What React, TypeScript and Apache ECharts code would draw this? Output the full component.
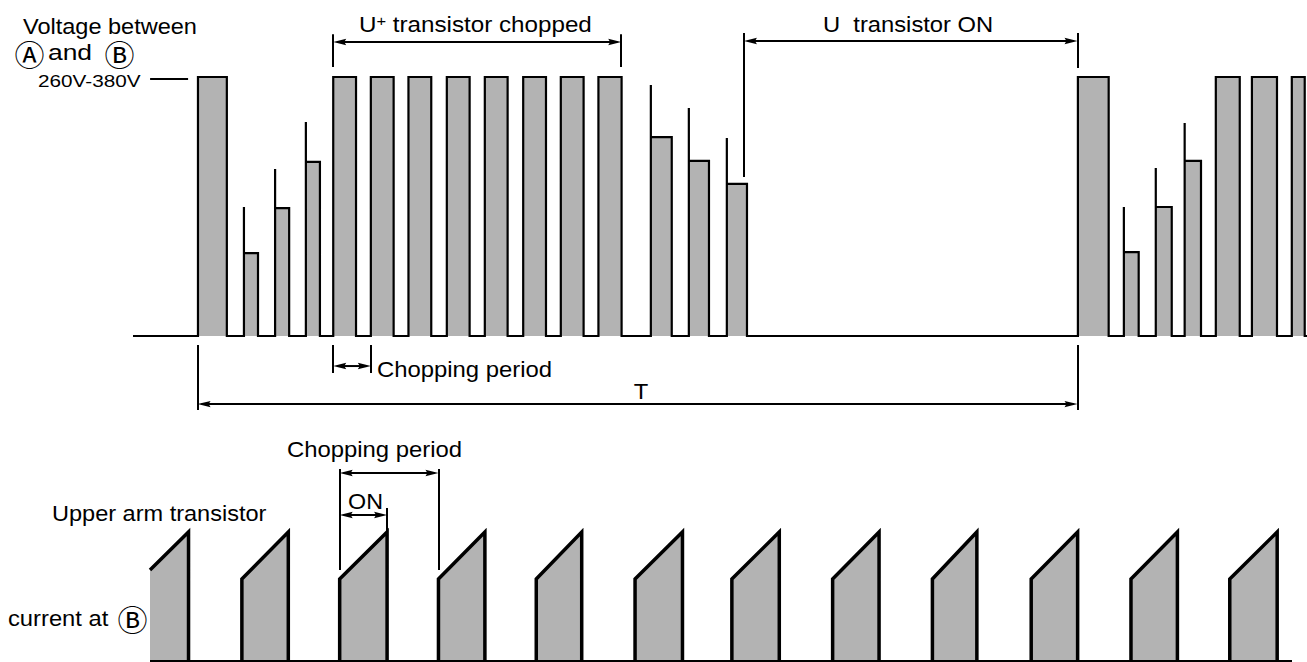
import React, { useEffect, useRef } from "react";
import * as echarts from "echarts";

// ---------- Top waveform: voltage between A and B (time unit = 1/10 chopping period) ----------
const voltageTimeRange = [0, 309];
const pulseStart = [17.1, 29.2, 37.4, 45.5, 52.7, 62.6, 72.5, 82.6, 92.6, 102.7, 112.6, 122.5, 136.3, 146.3, 156.3, 248.7, 260.8, 269.2, 276.8, 285.0, 294.5, 305.0];
const pulseEnd = [24.7, 32.9, 41.1, 49.2, 58.7, 68.6, 78.5, 88.6, 98.6, 108.7, 118.6, 128.6, 141.8, 151.6, 161.6, 256.8, 264.7, 273.4, 281.1, 291.3, 301.1, 308.4];
const pulseLevel = [100, 32, 49.4, 67.2, 100, 100, 100, 100, 100, 100, 100, 100, 76.8, 67.6, 58.7, 100, 32.4, 49.8, 67.6, 100, 100, 100];
const pulseSpike: (number | null)[] = [null, 49.8, 64.5, 82.6, null, null, null, null, null, null, null, null, 96.9, 88.0, 76.4, null, 49.8, 64.9, 82.2, null, null, null];

// ---------- Bottom waveform: upper arm transistor current at B (time unit = 1/10 chopping period) ----------
const currentTimeRange = [0, 115.6];
const currentStart = [0, 9.3, 19.2, 29.2, 39.1, 49.1, 58.9, 69.1, 79.2, 89.2, 99.3, 109.3];
const currentEnd = [3.9, 14.0, 24.0, 33.9, 43.7, 53.9, 63.7, 73.8, 83.7, 93.9, 104.0, 114.1];
const currentLow = [70.5, 63.6, 63.6, 63.6, 63.6, 63.6, 63.6, 63.6, 63.6, 63.6, 63.6, 63.6];
const currentHigh = [100, 100, 100, 100, 100, 100, 100, 100, 100, 100, 100, 100];

// ---------- Annotations (data coordinates) ----------
// double arrows: [from, to, y]
const topArrows = [
  [52.7, 128.5, 113.5], // U+ transistor chopped
  [160.8, 248.6, 113.9], // U transistor ON
  [17.0, 248.6, -26.3], // T
  [52.7, 62.6, -11.6], // chopping period
];
// vertical markers: [x, y1, y2]
const topMarkers = [
  [52.7, 116.5, 103.9],
  [128.5, 116.5, 103.9],
  [160.8, 117.0, 61.4],
  [248.6, 117.0, 103.5],
  [17.0, -3.5, -28.6],
  [248.6, -3.5, -28.6],
  [52.7, -3.5, -14.3],
  [62.6, -3.5, -14.3],
];
const levelTick = [4.5, 14.5, 99.4]; // "260V-380V" dash: [x1, x2, y]

const bottomArrows = [
  [19.2, 29.2, 145.7], // chopping period
  [19.2, 24.0, 113.2], // ON
];
const bottomMarkers = [
  [19.2, 148.8, 70.5],
  [29.2, 148.8, 70.5],
  [24.0, 118.6, 100],
];

const FONT = '"Liberation Sans", Arial, Helvetica, sans-serif';
const CIRC = '"Noto Sans CJK JP", "DejaVu Sans", sans-serif';
const GRAY = "#b3b3b3";

function buildVoltage() {
  const pts: (number | string)[][] = [[voltageTimeRange[0], 0]];
  for (let i = 0; i < pulseStart.length; i++) {
    pts.push([pulseStart[i], 0]);
    if (pulseSpike[i] != null) pts.push([pulseStart[i], pulseSpike[i] as number]);
    pts.push([pulseStart[i], pulseLevel[i]]);
    pts.push([pulseEnd[i], pulseLevel[i]]);
    pts.push([pulseEnd[i], 0]);
  }
  pts.push([voltageTimeRange[1], 0]);
  return pts;
}

function buildCurrent() {
  const pts: (number | string)[][] = [];
  for (let i = 0; i < currentStart.length; i++) {
    if (currentStart[i] > currentTimeRange[0]) pts.push([currentStart[i], 0]);
    pts.push([currentStart[i], currentLow[i]]);
    pts.push([currentEnd[i], currentHigh[i]]);
    pts.push([currentEnd[i], 0]);
    pts.push([currentEnd[i], "-"]);
  }
  return pts;
}

function markerItems(arr: number[][]) {
  return arr.map(([x, y1, y2]) => [
    { coord: [x, y1], symbol: "none" },
    { coord: [x, y2], symbol: "none" },
  ]);
}

const HEAD_L = 13;
const HEAD_W = 3.2;
function renderArrow(params: any, api: any) {
  const a = api.coord([api.value(0), api.value(2)]);
  const b = api.coord([api.value(1), api.value(2)]);
  const y = a[1];
  return {
    type: "group",
    silent: true,
    children: [
      {
        type: "line",
        shape: { x1: a[0] + 4, y1: y, x2: b[0] - 4, y2: y },
        style: { stroke: "#000", lineWidth: 2 },
      },
      {
        type: "polygon",
        shape: {
          points: [
            [a[0], y],
            [a[0] + HEAD_L, y - HEAD_W],
            [a[0] + HEAD_L * 0.85, y],
            [a[0] + HEAD_L, y + HEAD_W],
          ],
        },
        style: { fill: "#000" },
      },
      {
        type: "polygon",
        shape: {
          points: [
            [b[0], y],
            [b[0] - HEAD_L, y - HEAD_W],
            [b[0] - HEAD_L * 0.85, y],
            [b[0] - HEAD_L, y + HEAD_W],
          ],
        },
        style: { fill: "#000" },
      },
    ],
  };
}

function txt(text: string, x: number, y: number, sx = 1.08, size = 22, align = "left", family = FONT) {
  return {
    type: "text",
    x,
    y,
    scaleX: sx,
    silent: true,
    style: {
      text,
      fontSize: size,
      fontFamily: family,
      fill: "#000",
      align,
      textAlign: align,
      verticalAlign: "middle",
      textVerticalAlign: "middle",
    },
  };
}

export default function App() {
  const ref = useRef<HTMLDivElement>(null);
  useEffect(() => {
    const chart = echarts.init(ref.current!, null, { renderer: "svg" });
    const markLineBase = {
      silent: true,
      animation: false,
      symbol: ["none", "none"],
      label: { show: false },
      emphasis: { disabled: true },
      lineStyle: { color: "#000", width: 2, type: "solid" },
    };
    const option: any = {
      animation: false,
      backgroundColor: "#fff",
      grid: [
        { left: 133, right: 0, top: 12.25, bottom: 222.4, outerBoundsMode: "none" },
        { left: 150, right: 15, top: 454.6, bottom: 1, outerBoundsMode: "none" },
      ],
      xAxis: [
        { type: "value", gridIndex: 0, min: voltageTimeRange[0], max: voltageTimeRange[1], show: false },
        { type: "value", gridIndex: 1, min: currentTimeRange[0], max: currentTimeRange[1], show: false },
      ],
      yAxis: [
        { type: "value", gridIndex: 0, min: -40, max: 125, show: false },
        { type: "value", gridIndex: 1, min: 0, max: 160, show: false },
      ],
      series: [
        {
          type: "line",
          xAxisIndex: 0,
          yAxisIndex: 0,
          data: buildVoltage(),
          symbol: "none",
          showSymbol: false,
          silent: true,
          clip: false,
          lineStyle: { color: "#000", width: 2.2, join: "miter" },
          areaStyle: { color: GRAY, opacity: 1 },
          markLine: {
            ...markLineBase,
            data: [
              ...markerItems(topMarkers),
              [
                { coord: [levelTick[0], levelTick[2]], symbol: "none" },
                { coord: [levelTick[1], levelTick[2]], symbol: "none" },
              ],
            ],
          },
        },
        {
          type: "custom",
          xAxisIndex: 0,
          yAxisIndex: 0,
          data: topArrows,
          silent: true,
          clip: false,
          renderItem: renderArrow,
        },
        {
          type: "line",
          xAxisIndex: 1,
          yAxisIndex: 1,
          data: buildCurrent(),
          symbol: "none",
          showSymbol: false,
          silent: true,
          connectNulls: false,
          lineStyle: { color: "#000", width: 3.5, join: "miter" },
          areaStyle: { color: GRAY, opacity: 1 },
          markLine: {
            ...markLineBase,
            data: [
              ...markerItems(bottomMarkers),
              [
                { coord: [currentTimeRange[0], 0], symbol: "none" },
                { coord: [currentTimeRange[1], 0], symbol: "none" },
              ],
            ],
          },
        },
        {
          type: "custom",
          xAxisIndex: 1,
          yAxisIndex: 1,
          data: bottomArrows,
          silent: true,
          clip: false,
          renderItem: renderArrow,
        },
      ],
      graphic: [
        txt("Voltage between", 23, 26, 1.07),
        txt("Ⓐ", 29.5, 52.5, 1, 30, "center", CIRC),
        txt("and", 48, 52, 1.2),
        txt("Ⓑ", 119.5, 52.5, 1, 30, "center", CIRC),
        txt("260V-380V", 38, 81, 1.22, 17),
        {
          type: "text",
          x: 359,
          y: 24,
          scaleX: 1.1,
          silent: true,
          style: {
            text: "{a|U}{b|+}{a| transistor chopped}",
            fontFamily: FONT,
            fontSize: 22,
            fill: "#000",
            align: "left",
            textAlign: "left",
            verticalAlign: "middle",
            textVerticalAlign: "middle",
            rich: {
              a: { fontSize: 22, fontFamily: FONT, fill: "#000" },
              b: { fontSize: 15, fontFamily: FONT, fill: "#000", verticalAlign: "top" },
            },
          },
        },
        txt("U  transistor ON", 823, 24.5, 1.08),
        txt("Chopping period", 377, 369, 1.085),
        txt("T", 641, 391, 1.08, 22, "center"),
        txt("Chopping period", 287, 449.5, 1.085),
        txt("ON", 348, 501, 1.06),
        txt("Upper arm transistor", 52, 513, 1.07),
        txt("current at", 8, 618, 1.08),
        txt("Ⓑ", 132.5, 618, 1, 30, "center", CIRC),
      ],
    };
    chart.setOption(option);
    return () => chart.dispose();
  }, []);
  return (
    <div
      ref={ref}
      style={{ position: "fixed", left: 0, top: 0, width: 1307, height: 662, background: "#fff" }}
    />
  );
}
